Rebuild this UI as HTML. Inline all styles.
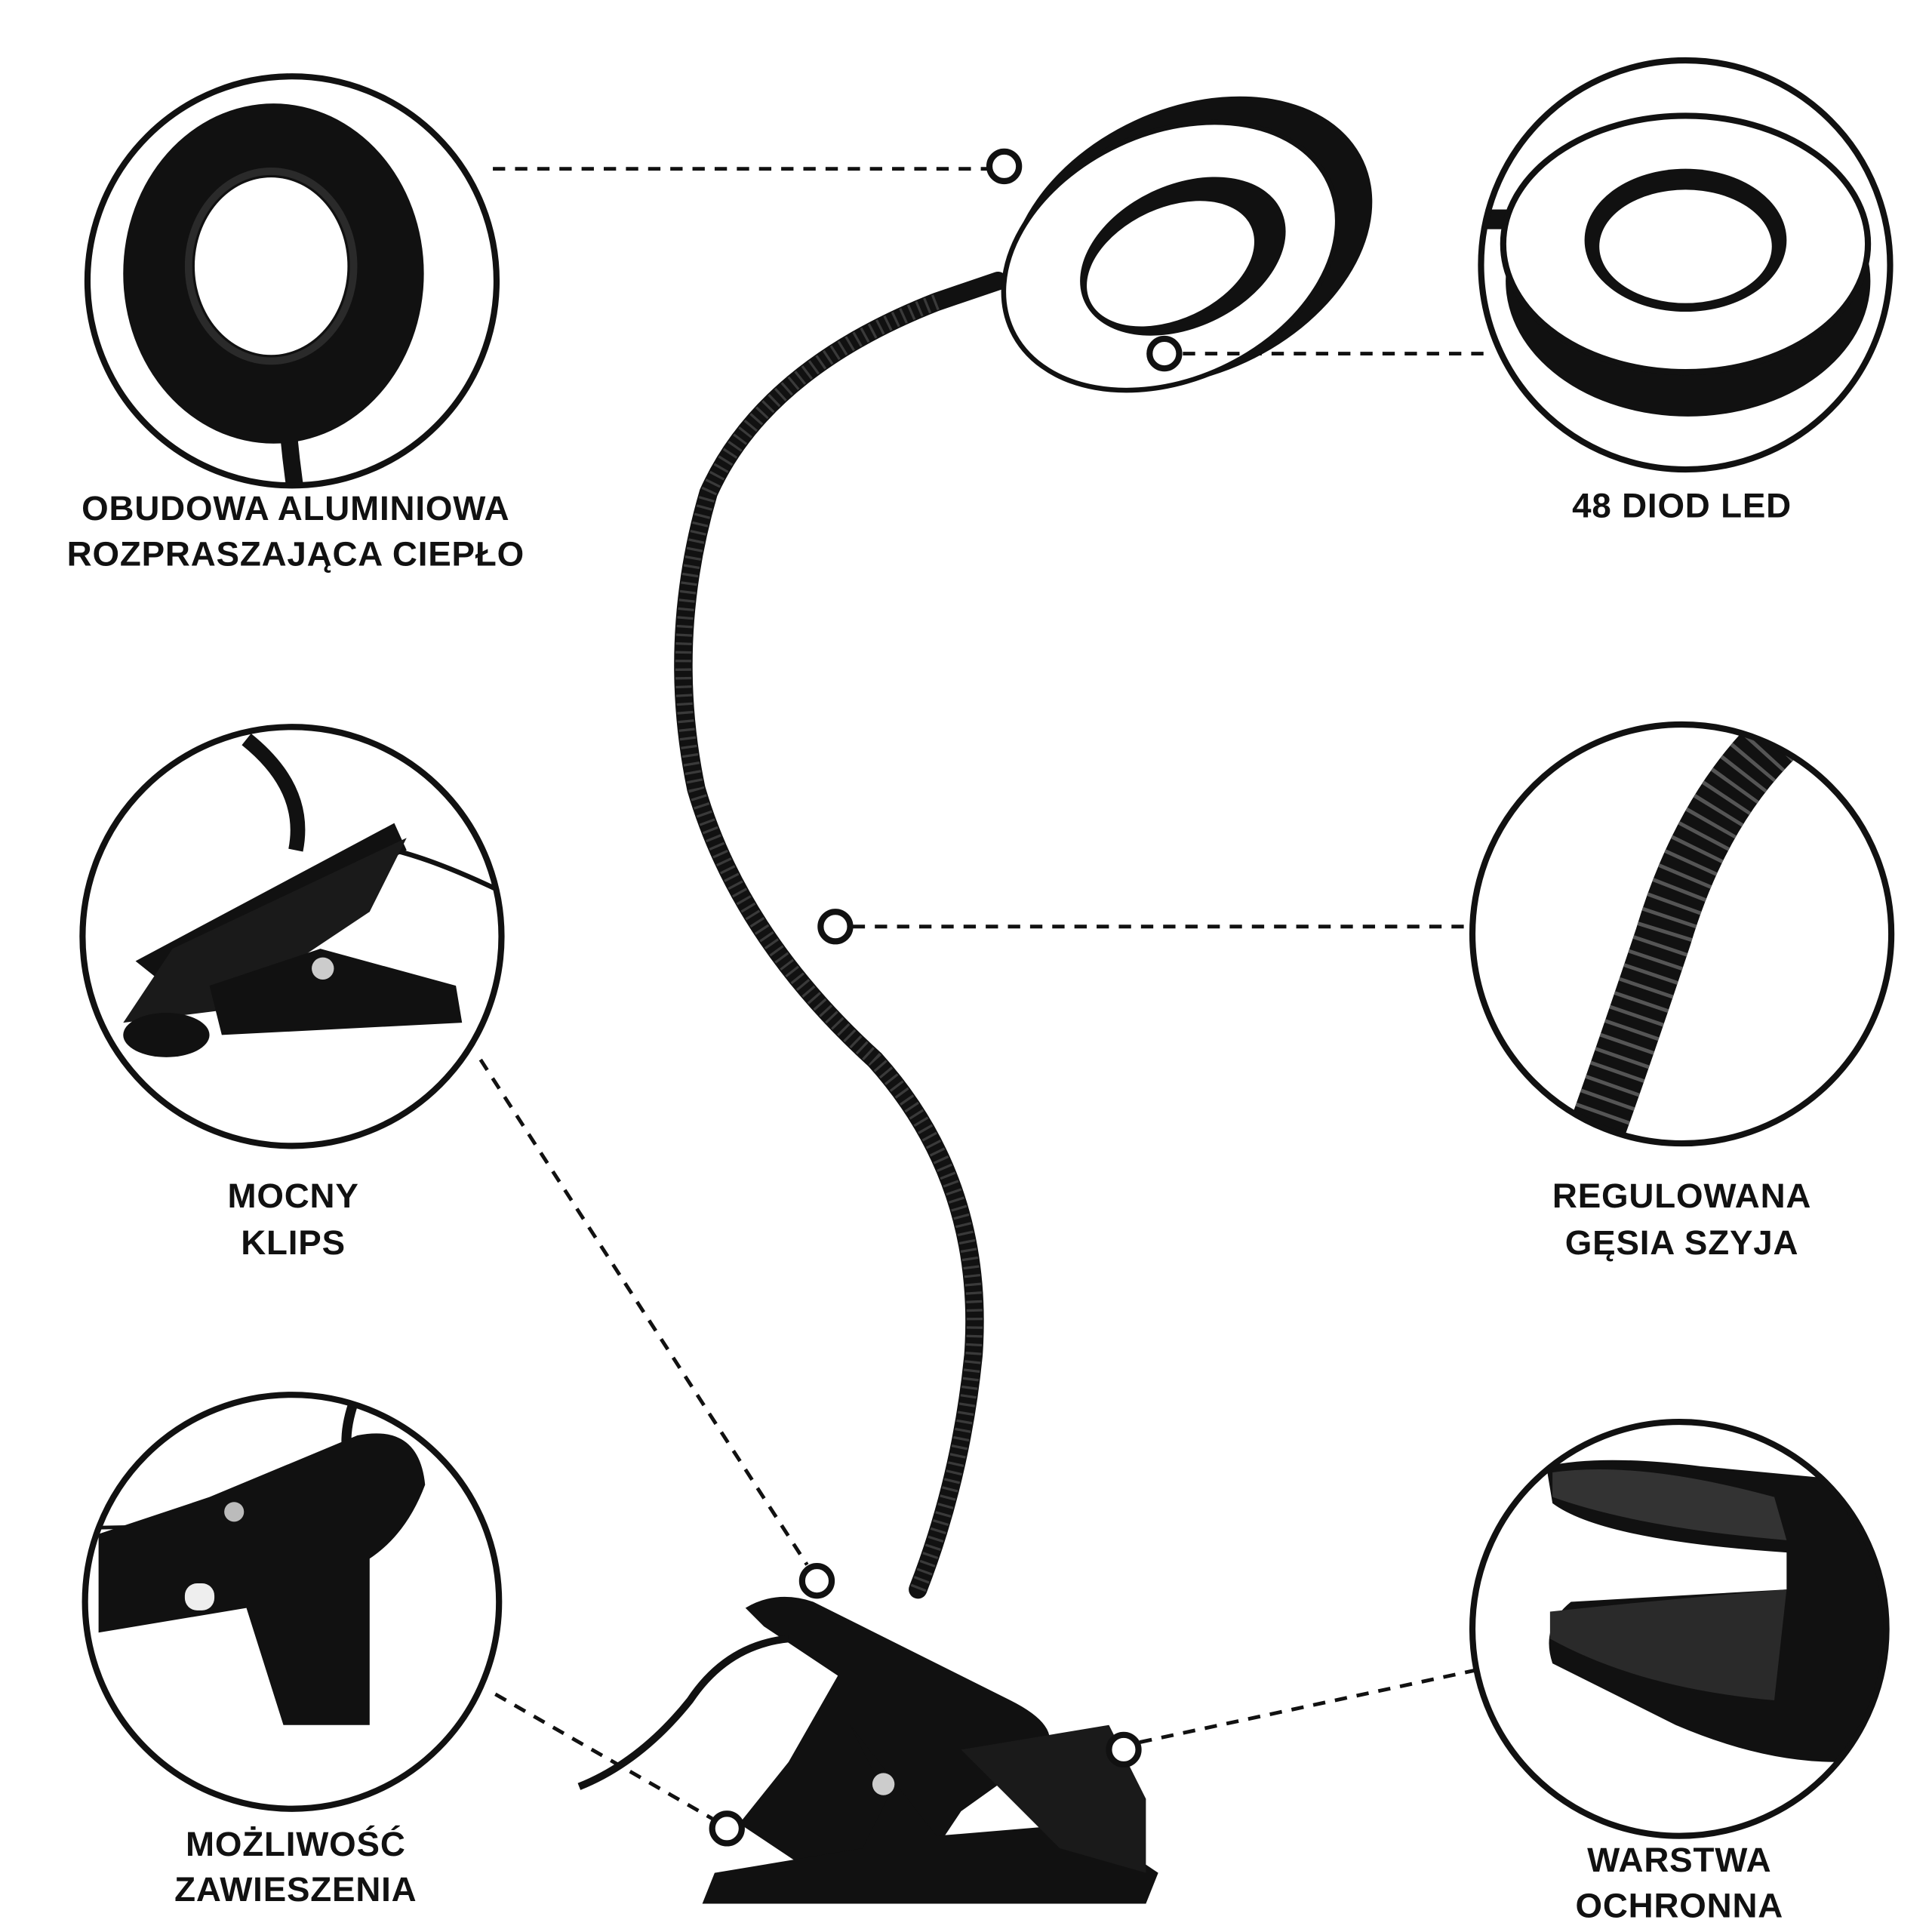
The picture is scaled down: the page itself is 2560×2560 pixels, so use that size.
<!DOCTYPE html>
<html><head><meta charset="utf-8"><style>
html,body{margin:0;padding:0;background:#fff}
svg{display:block}
text{font-family:"Liberation Sans","DejaVu Sans",sans-serif;font-weight:bold;font-size:28px;fill:#111;text-anchor:middle;letter-spacing:0.5px}
</style></head><body>
<svg width="2560" height="2560" viewBox="0 0 1568 1568" xmlns="http://www.w3.org/2000/svg">
<rect width="1568" height="1568" fill="#fff"/>
<defs>
<clipPath id="c1"><circle cx="237" cy="228" r="164"/></clipPath>
<clipPath id="c2"><circle cx="1368" cy="215" r="164"/></clipPath>
<clipPath id="c3"><circle cx="237" cy="760" r="168"/></clipPath>
<clipPath id="c4"><circle cx="1365" cy="758" r="168"/></clipPath>
<clipPath id="c5"><circle cx="237" cy="1300" r="166"/></clipPath>
<clipPath id="c6"><circle cx="1363" cy="1322" r="166"/></clipPath>
</defs>

<g clip-path="url(#c1)">
<path d="M232 320 Q234 360 240 400" stroke="#111" stroke-width="14" fill="none"/>
<ellipse cx="222" cy="222" rx="122" ry="138" fill="#111"/>
<ellipse cx="220" cy="216" rx="62" ry="72" fill="#fff"/>
<ellipse cx="220" cy="216" rx="67" ry="77" fill="none" stroke="#2a2a2a" stroke-width="6"/>
</g>
<g clip-path="url(#c2)">
<rect x="1190" y="170" width="40" height="16" fill="#111"/>
<ellipse cx="1370" cy="228" rx="148" ry="110" fill="#111"/>
<ellipse cx="1368" cy="198" rx="148" ry="104" fill="#fff" stroke="#111" stroke-width="5"/>
<ellipse cx="1368" cy="195" rx="82" ry="58" fill="#111"/>
<ellipse cx="1368" cy="200" rx="70" ry="46" fill="#fff"/>
</g>
<g clip-path="url(#c3)">
<path d="M200 600 Q250 640 240 690" stroke="#111" stroke-width="12" fill="none"/>
<path d="M320 690 Q360 700 420 730" stroke="#111" stroke-width="4" fill="none"/>
<polygon points="110,780 320,668 330,690 135,800" fill="#111"/>
<polygon points="100,830 140,770 330,680 300,740 180,820" fill="#1a1a1a"/>
<polygon points="170,800 260,770 370,800 375,830 180,840" fill="#111"/>
<ellipse cx="135" cy="840" rx="35" ry="18" fill="#111"/>
<circle cx="262" cy="786" r="9" fill="#ccc"/>
</g>
<g clip-path="url(#c4)">
<path d="M1440 600 Q1380 660 1350 760 Q1320 850 1295 920" stroke="#111" stroke-width="46" fill="none"/>
<path d="M1440 600 Q1380 660 1350 760 Q1320 850 1295 920" stroke="#555" stroke-width="46" fill="none" stroke-dasharray="3 9"/>
</g>
<g clip-path="url(#c5)">
<path d="M290 1130 Q270 1180 295 1205" stroke="#111" stroke-width="8" fill="none"/>
<path d="M70 1240 L230 1237" stroke="#111" stroke-width="3"/>
<path d="M290 1165 Q340 1155 345 1205 Q330 1245 300 1265 L300 1400 L230 1400 L200 1305 L80 1325 L80 1245 L170 1215 Z" fill="#111"/>
<rect x="150" y="1285" width="24" height="22" rx="10" fill="#eee"/>
<circle cx="190" cy="1227" r="8" fill="#bbb"/>
</g>
<g clip-path="url(#c6)">
<path d="M1255 1190 Q1300 1180 1380 1190 L1540 1205 L1540 1410 L1490 1430 Q1430 1430 1360 1400 L1260 1350 Q1250 1320 1275 1300 L1450 1290 L1450 1260 Q1300 1250 1260 1220 Z" fill="#111"/>
<path d="M1260 1195 Q1330 1185 1440 1215 L1450 1250 Q1330 1240 1260 1215 Z" fill="#333"/>
<path d="M1258 1308 Q1330 1300 1450 1290 L1440 1380 Q1330 1370 1258 1330 Z" fill="#2a2a2a"/>
</g>

<g fill="none" stroke="#111" stroke-width="5">
<circle cx="237" cy="228" r="166"/>
<circle cx="1368" cy="215" r="166"/>
<circle cx="237" cy="760" r="170"/>
<circle cx="1365" cy="758" r="170"/>
<circle cx="237" cy="1300" r="168"/>
<circle cx="1363" cy="1322" r="168"/>
</g>

<path d="M810 228 L760 245 Q620 300 575 400 Q540 520 565 640 Q600 760 710 860 Q800 960 790 1100 Q780 1200 745 1290" stroke="#111" stroke-width="15" fill="none" stroke-linecap="round"/>
<path d="M760 245 Q620 300 575 400 Q540 520 565 640 Q600 760 710 860 Q800 960 790 1100 Q780 1200 745 1290" stroke="#3a3a3a" stroke-width="13" fill="none" stroke-dasharray="2 5"/>
<!-- head -->
<ellipse cx="966" cy="196" rx="155" ry="108" transform="rotate(-25 966 196)" fill="#111"/>
<ellipse cx="950" cy="208" rx="142" ry="100" transform="rotate(-25 950 208)" fill="#fff" stroke="#111" stroke-width="4"/>
<ellipse cx="960" cy="208" rx="88" ry="58" transform="rotate(-25 960 208)" fill="#111"/>
<ellipse cx="950" cy="214" rx="72" ry="45" transform="rotate(-25 950 214)" fill="#fff"/>
<!-- clip base -->
<path d="M605 1305 Q630 1290 660 1300 L820 1380 Q860 1400 850 1420 L780 1470 L760 1500 L660 1520 L600 1480 L640 1430 L680 1360 L620 1320 Z" fill="#111"/>
<path d="M690 1400 L720 1460 L700 1500 L580 1520 L570 1545 L930 1545 L940 1520 L880 1480 L760 1490 Z" fill="#111"/>
<path d="M780 1420 L900 1400 L930 1460 L930 1520 L860 1500 Z" fill="#1a1a1a"/>
<path d="M640 1330 Q590 1335 560 1380 Q520 1430 470 1450" stroke="#111" stroke-width="6" fill="none"/>
<circle cx="717" cy="1448" r="9" fill="#ccc"/>

<g stroke="#111" stroke-width="3" stroke-dasharray="10 8" fill="none">
<line x1="400" y1="137" x2="803" y2="137"/>
<line x1="960" y1="287" x2="1210" y2="287"/>
<line x1="692" y1="752" x2="1195" y2="752"/>
<line x1="390" y1="860" x2="655" y2="1270"/>
<line x1="402" y1="1375" x2="578" y2="1476"/>
<line x1="925" y1="1414" x2="1200" y2="1355"/>
</g>
<g fill="#fff" stroke="#111" stroke-width="5">
<circle cx="815" cy="135" r="12"/>
<circle cx="945" cy="287" r="12"/>
<circle cx="678" cy="752" r="12"/>
<circle cx="663" cy="1283" r="12"/>
<circle cx="590" cy="1484" r="12"/>
<circle cx="912" cy="1420" r="12"/>
</g>

<text x="240" y="422">OBUDOWA ALUMINIOWA</text>
<text x="240" y="459">ROZPRASZAJĄCA CIEPŁO</text>
<text x="1365" y="420">48 DIOD LED</text>
<text x="238" y="980">MOCNY</text>
<text x="238" y="1018">KLIPS</text>
<text x="1365" y="980">REGULOWANA</text>
<text x="1365" y="1018">GĘSIA SZYJA</text>
<text x="240" y="1506">MOŻLIWOŚĆ</text>
<text x="240" y="1543">ZAWIESZENIA</text>
<text x="1363" y="1519">WARSTWA</text>
<text x="1363" y="1556">OCHRONNA</text>
</svg>
</body></html>
